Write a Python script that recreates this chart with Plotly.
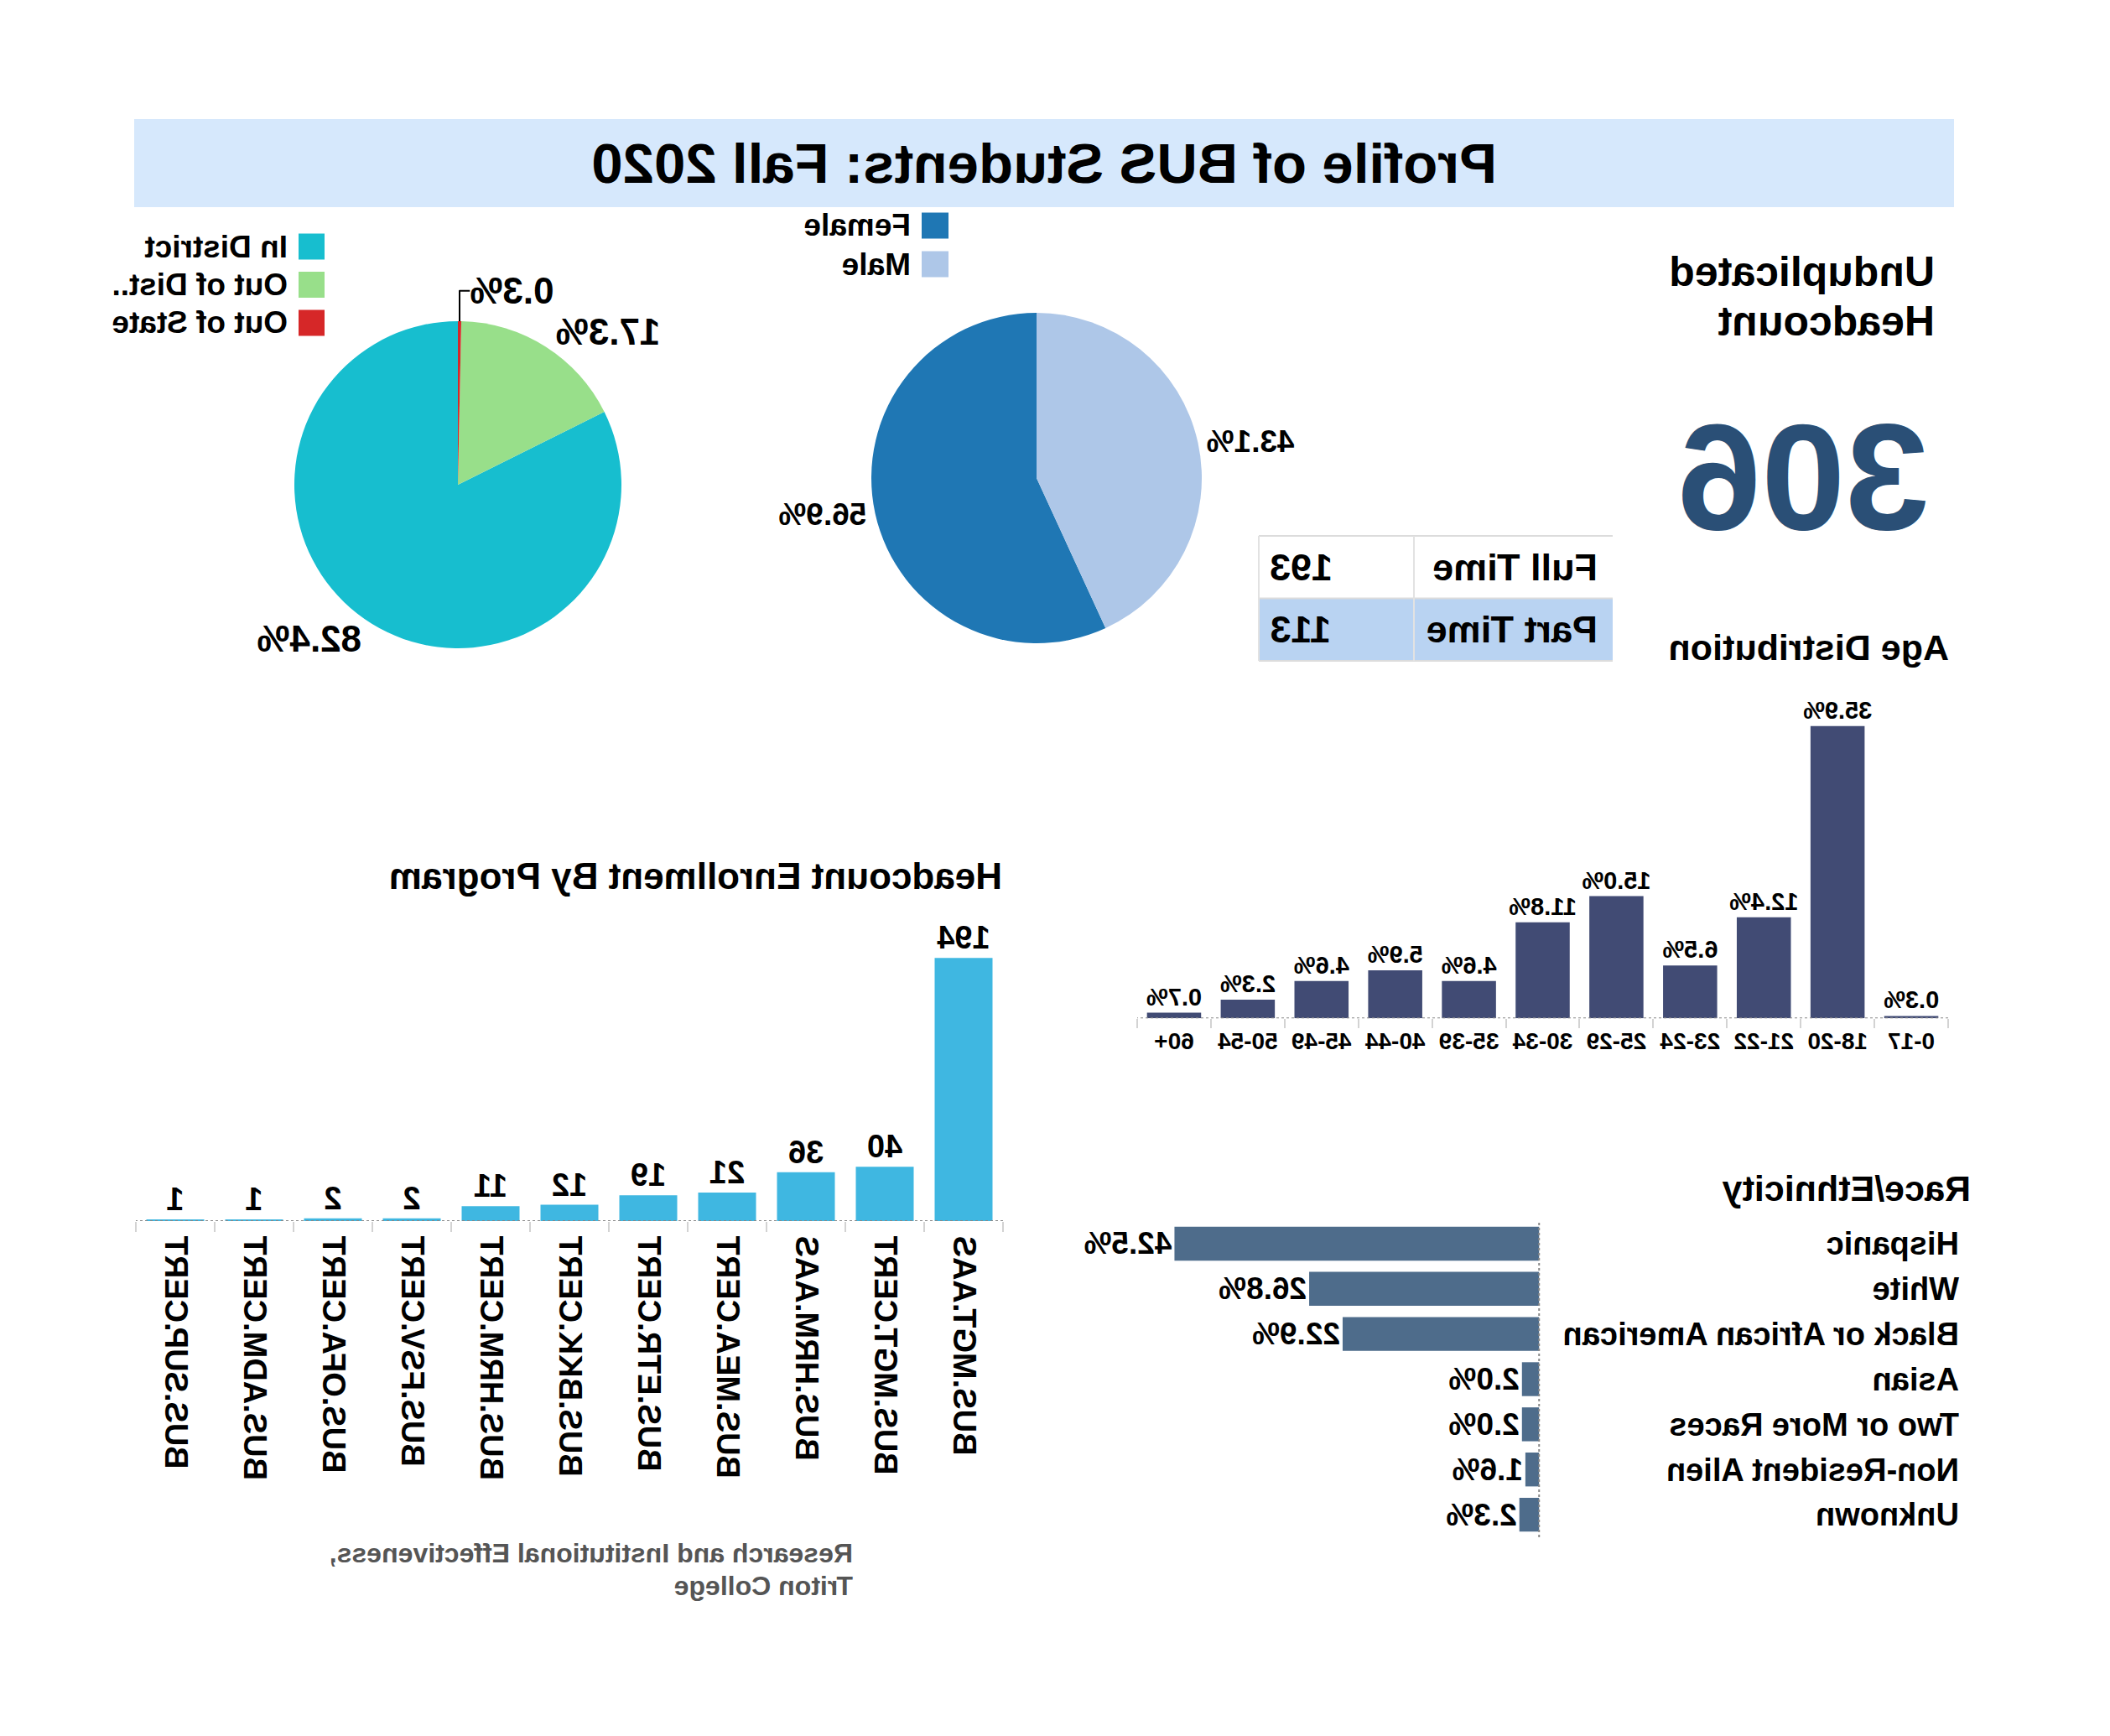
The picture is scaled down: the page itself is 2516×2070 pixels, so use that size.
import plotly.graph_objects as go

W, H = 2516, 2070
FONT = "Liberation Sans, Arial, sans-serif"

# ---------------- data ----------------
title_text = "Profile of BUS Students: Fall 2020"

district_labels = ["In District", "Out of Dist..", "Out of State"]
district_counts = [252, 53, 1]
district_colors = ["#17becf", "#98df8a", "#d62728"]

gender_labels = ["Female", "Male"]
gender_counts = [174, 132]
gender_colors = ["#1f77b4", "#aec7e8"]

headcount_title = ["Unduplicated", "Headcount"]
headcount_total = 306

status_labels = ["Full Time", "Part Time"]
status_counts = [193, 113]
status_fills = ["#ffffff", "#b9d3f2"]

age_groups = ["0-17", "18-20", "21-22", "23-24", "25-29", "30-34",
              "35-39", "40-44", "45-49", "50-54", "60+"]
age_pct = [0.3, 35.9, 12.4, 6.5, 15.0, 11.8, 4.6, 5.9, 4.6, 2.3, 0.7]

programs = ["BUS.MGT.AAS", "BUS.MGT.CERT", "BUS.HRM.AAS", "BUS.MEA.CERT",
            "BUS.ETR.CERT", "BUS.BKK.CERT", "BUS.HRM.CERT", "BUS.FSV.CERT",
            "BUS.OFA.CERT", "BUS.ADM.CERT", "BUS.SUP.CERT"]
program_counts = [194, 40, 36, 21, 19, 12, 11, 2, 2, 1, 1]

race_labels = ["Hispanic", "White", "Black or African American", "Asian",
               "Two or More Races", "Non-Resident Alien", "Unknown"]
race_pct = [42.5, 26.8, 22.9, 2.0, 2.0, 1.6, 2.3]

footer_lines = ["Research and Institutional Effectiveness,", "Triton College"]

# ---------------- helpers ----------------
def px_x(x):
    return x / W

def px_y(y):
    return 1 - y / H

def bold(size, color="black"):
    return dict(size=size, color=color, family=FONT, weight="bold")

def b(s):
    return f"<b>{s}</b>"

def ann(text, x, y, size, xanchor="left", color="black"):
    return dict(text=b(text), x=px_x(x), y=px_y(y), xref="paper", yref="paper",
                xanchor=xanchor, yanchor="middle", showarrow=False,
                font=bold(size, color))

fig = go.Figure()

# District pie
fig.add_trace(go.Pie(
    labels=district_labels, values=district_counts, sort=False,
    direction="clockwise", rotation=0,
    marker=dict(colors=district_colors, line=dict(width=0)),
    texttemplate="<b>%{percent:.1%}</b>", textposition="outside",
    outsidetextfont=bold(44),
    domain=dict(x=[px_x(1775), px_x(2165)], y=[px_y(773), px_y(383)]),
    showlegend=False, hoverinfo="skip",
))

# Gender pie
fig.add_trace(go.Pie(
    labels=gender_labels, values=gender_counts, sort=False,
    direction="clockwise", rotation=0,
    marker=dict(colors=gender_colors, line=dict(width=0)),
    texttemplate="<b>%{percent:.1%}</b>", textposition="outside",
    outsidetextfont=bold(37),
    domain=dict(x=[px_x(1083), px_x(1477)], y=[px_y(767), px_y(373)]),
    showlegend=False, hoverinfo="skip",
))

# Age distribution bars
fig.add_trace(go.Bar(
    x=age_groups, y=age_pct, xaxis="x", yaxis="y",
    marker=dict(color="#414b74", line=dict(width=0)),
    text=[b(f"{v:.1f}%") for v in age_pct], textposition="outside",
    textfont=bold(29), constraintext="none",
    cliponaxis=False, showlegend=False, hoverinfo="skip",
))

# Program bars
fig.add_trace(go.Bar(
    x=programs, y=program_counts, xaxis="x2", yaxis="y2",
    marker=dict(color="#3fb7e1", line=dict(width=0)),
    text=[b(v) for v in program_counts], textposition="outside",
    textfont=bold(38), constraintext="none",
    cliponaxis=False, showlegend=False, hoverinfo="skip",
))

# Race bars
fig.add_trace(go.Bar(
    y=race_labels, x=race_pct, orientation="h", xaxis="x3", yaxis="y3",
    marker=dict(color="#4e6c8b", line=dict(width=0)), width=0.75,
    text=[b(f"{v:.1f}%") for v in race_pct], textposition="outside",
    textfont=bold(37), constraintext="none",
    cliponaxis=False, showlegend=False, hoverinfo="skip",
))

shapes = []
annotations = []

# title band
shapes.append(dict(type="rect", xref="paper", yref="paper",
                   x0=px_x(186), x1=px_x(2356), y0=px_y(247), y1=px_y(142),
                   fillcolor="#d6e8fc", line=dict(width=0), layer="below"))
annotations.append(ann(title_text, 1271, 195, 67, xanchor="center"))

# district legend
for i, (lab, col) in enumerate(zip(district_labels, district_colors)):
    yc = 294 + i * 45.5
    shapes.append(dict(type="rect", xref="paper", yref="paper",
                       x0=px_x(2129), x1=px_x(2160), y0=px_y(yc + 15.5), y1=px_y(yc - 15.5),
                       fillcolor=col, line=dict(width=0)))
    annotations.append(ann(lab, 2171, yc, 37))

# gender legend
for i, (lab, col) in enumerate(zip(gender_labels, gender_colors)):
    yc = 269 + i * 46
    shapes.append(dict(type="rect", xref="paper", yref="paper",
                       x0=px_x(1385), x1=px_x(1417), y0=px_y(yc + 15.5), y1=px_y(yc - 15.5),
                       fillcolor=col, line=dict(width=0)))
    annotations.append(ann(lab, 1428, yc, 37))

# headcount
annotations.append(ann(headcount_title[0], 207, 324, 50))
annotations.append(ann(headcount_title[1], 207, 383, 50))
annotations.append(ann(str(headcount_total), 366, 568, 180, xanchor="center", color="#2a4f76"))

# full/part time table
tab_x0, tab_xm, tab_x1 = 593, 830, 1015
tab_y0, row_h = 639, 74.5
for i, (lab, cnt, fill) in enumerate(zip(status_labels, status_counts, status_fills)):
    y0 = tab_y0 + i * row_h
    y1 = y0 + row_h
    shapes.append(dict(type="rect", xref="paper", yref="paper",
                       x0=px_x(tab_x0), x1=px_x(tab_x1), y0=px_y(y1), y1=px_y(y0),
                       fillcolor=fill, line=dict(width=0), layer="below"))
    annotations.append(ann(lab, tab_x0 + 16, (y0 + y1) / 2, 45))
    annotations.append(ann(str(cnt), tab_x1 - 11, (y0 + y1) / 2, 45, xanchor="right"))
tab_y1 = tab_y0 + row_h * len(status_labels)
for yy in [tab_y0, tab_y0 + row_h, tab_y1]:
    shapes.append(dict(type="line", xref="paper", yref="paper",
                       x0=px_x(tab_x0), x1=px_x(tab_x1), y0=px_y(yy), y1=px_y(yy),
                       line=dict(color="#dcdcdc", width=2)))
for xx in [tab_xm, tab_x1]:
    shapes.append(dict(type="line", xref="paper", yref="paper",
                       x0=px_x(xx), x1=px_x(xx), y0=px_y(tab_y0), y1=px_y(tab_y1),
                       line=dict(color="#e2e2e2", width=2)))

# section titles
annotations.append(ann("Age Distribution", 190, 772, 43))
annotations.append(ann("Headcount Enrollment By Program", 1319, 1044, 44))
annotations.append(ann("Race/Ethnicity", 164, 1417, 43))

# footer
annotations.append(ann(footer_lines[0], 1497, 1852, 32, color="#555555"))
annotations.append(ann(footer_lines[1], 1497, 1891, 32, color="#555555"))

# dotted baselines
shapes.append(dict(type="line", xref="x domain", yref="y", x0=0, x1=1, y0=0, y1=0,
                   line=dict(color="#888888", width=2, dash="dot")))
shapes.append(dict(type="line", xref="x2 domain", yref="y2", x0=0, x1=1, y0=0, y1=0,
                   line=dict(color="#888888", width=2, dash="dot")))
shapes.append(dict(type="line", xref="x3", yref="y3 domain", x0=0, x1=0, y0=0, y1=1,
                   line=dict(color="#888888", width=2, dash="dot")))

cat_axis = dict(type="category", tickson="boundaries", ticks="outside",
                tickcolor="#d3d3d3", tickwidth=2, showgrid=False,
                showline=False, zeroline=False, fixedrange=True)

fig.update_layout(
    width=W, height=H,
    margin=dict(l=0, r=0, t=0, b=0),
    paper_bgcolor="white", plot_bgcolor="rgba(0,0,0,0)",
    font=dict(family=FONT, color="black", weight="bold"),
    showlegend=False,
    bargap=0.266,
    xaxis=dict(cat_axis, domain=[px_x(193), px_x(1160)], anchor="y",
               tickvals=age_groups, ticktext=[b(a) for a in age_groups],
               ticklen=11, ticklabelstandoff=8, tickfont=bold(28)),
    yaxis=dict(domain=[px_y(1214.3), px_y(820)], range=[0, 40.6],
               visible=False, anchor="x", fixedrange=True),
    xaxis2=dict(cat_axis, domain=[px_x(1320), px_x(2354)], anchor="y2",
                tickvals=programs, ticktext=[b(p) for p in programs],
                ticklen=12, ticklabelstandoff=9, tickangle=-90, tickfont=bold(38)),
    yaxis2=dict(domain=[px_y(1456), px_y(1100)], range=[0, 220.2],
                visible=False, anchor="x2", fixedrange=True),
    xaxis3=dict(domain=[px_x(177), px_x(1180)], range=[-49.24, 48.8],
                visible=False, anchor="y3", fixedrange=True),
    yaxis3=dict(domain=[px_y(1833), px_y(1456)], type="category",
                tickvals=race_labels, ticktext=[b(r) for r in race_labels],
                autorange="reversed", anchor="x3", ticklabelposition="inside",
                ticks="", showgrid=False, zeroline=False, showline=False,
                tickfont=bold(38), fixedrange=True),
    shapes=shapes,
    annotations=annotations,
)

post = ("var d=document.getElementById('{plot_id}');"
        "document.body.style.margin='0';"
        "document.body.style.overflow='hidden';"
        "d.style.transformOrigin='50% 50%';"
        "d.style.transform='scaleX(-1)';")

fig.write_html("out.html", config={"displayModeBar": False}, post_script=post)
